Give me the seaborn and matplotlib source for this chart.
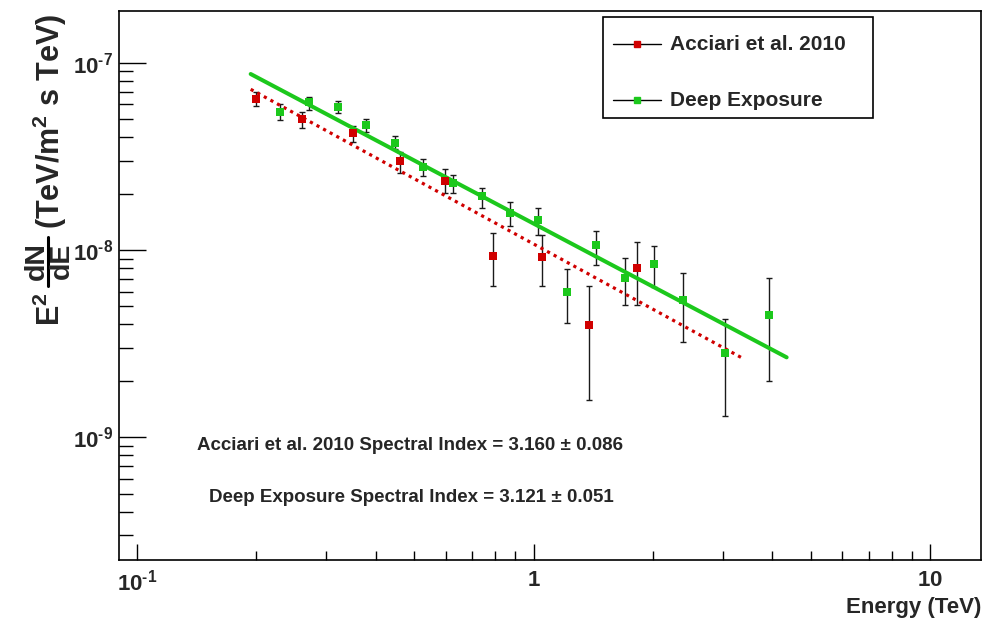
import matplotlib
matplotlib.use("Agg")
import matplotlib.pyplot as plt
import numpy as np
import seaborn as sns
from matplotlib.ticker import LogLocator, NullFormatter
from matplotlib.lines import Line2D
from matplotlib.patches import Rectangle

# ---------------- data ----------------
acc_E = [0.199, 0.260, 0.351, 0.460, 0.599, 0.788, 1.049, 1.379, 1.821]
acc_F = [6.40e-8, 4.99e-8, 4.20e-8, 2.99e-8, 2.34e-8, 9.29e-9, 9.14e-9, 3.99e-9, 8.01e-9]
acc_Fhi = [6.95e-8, 5.43e-8, 4.61e-8, 3.35e-8, 2.70e-8, 1.23e-8, 1.20e-8, 6.42e-9, 1.107e-8]
acc_Flo = [5.89e-8, 4.50e-8, 3.79e-8, 2.57e-8, 2.01e-8, 6.42e-9, 6.42e-9, 1.58e-9, 5.07e-9]

deep_E = [0.229, 0.271, 0.321, 0.379, 0.447, 0.527, 0.625, 0.742, 0.872, 1.027,
          1.215, 1.436, 1.699, 2.011, 2.375, 3.035, 3.926]
deep_F = [5.47e-8, 6.15e-8, 5.80e-8, 4.65e-8, 3.71e-8, 2.76e-8, 2.27e-8, 1.93e-8, 1.58e-8, 1.45e-8,
          5.94e-9, 1.06e-8, 7.11e-9, 8.39e-9, 5.39e-9, 2.81e-9, 4.50e-9]
deep_Fhi = [6.00e-8, 6.59e-8, 6.22e-8, 4.99e-8, 4.05e-8, 3.06e-8, 2.51e-8, 2.15e-8, 1.80e-8, 1.67e-8,
            7.89e-9, 1.27e-8, 9.10e-9, 1.054e-8, 7.51e-9, 4.28e-9, 7.11e-9]
deep_Flo = [4.93e-8, 5.59e-8, 5.37e-8, 4.28e-8, 3.45e-8, 2.49e-8, 2.01e-8, 1.67e-8, 1.34e-8, 1.20e-8,
            4.06e-9, 8.32e-9, 5.07e-9, 6.32e-9, 3.24e-9, 1.30e-9, 2.00e-9]

# power-law fit lines (end points)
acc_fit_E = [0.1935, 3.364]
acc_fit_F = [7.21e-8, 2.64e-9]
deep_fit_E = [0.1935, 4.343]
deep_fit_F = [8.70e-8, 2.67e-9]

series_names = ["Acciari et al. 2010", "Deep Exposure"]
index_text = ["Acciari et al. 2010 Spectral Index = 3.160 \u00b1 0.086",
              "Deep Exposure Spectral Index = 3.121 \u00b1 0.051"]

x_ticks = [0.1, 1, 10]
x_ticklabels = [r"$\mathbf{10^{\text{-}1}}$", r"$\mathbf{1}$", r"$\mathbf{10}$"]
y_ticks = [1e-9, 1e-8, 1e-7]
y_ticklabels = [r"$\mathbf{10^{\text{-}9}}$", r"$\mathbf{10^{\text{-}8}}$", r"$\mathbf{10^{\text{-}7}}$"]

RED = "#d00000"
GREEN = "#1cc81c"

# ---------------- style ----------------
sns.set_style("white")
plt.rcParams["font.family"] = ["Liberation Sans", "DejaVu Sans"]
plt.rcParams["font.weight"] = "bold"
plt.rcParams["mathtext.fontset"] = "custom"
plt.rcParams["mathtext.rm"] = "Liberation Sans:bold"
plt.rcParams["mathtext.bf"] = "Liberation Sans:bold"
plt.rcParams["mathtext.it"] = "Liberation Sans:bold"
plt.rcParams["mathtext.sf"] = "Liberation Sans:bold"

W, H = 985.0, 631.0
fig = plt.figure(figsize=(9.85, 6.31), dpi=100)
ax = fig.add_axes([119 / W, 1 - 560 / H, (981 - 119) / W, (560 - 11) / H])
ax.set_xscale("log")
ax.set_yscale("log")

# error bars
for E, F, lo, hi in [(acc_E, acc_F, acc_Flo, acc_Fhi), (deep_E, deep_F, deep_Flo, deep_Fhi)]:
    E = np.array(E); F = np.array(F)
    yerr = [F - np.array(lo), np.array(hi) - F]
    ax.errorbar(E, F, yerr=yerr, fmt="none", ecolor="#1a1a1a", elinewidth=1.0,
                capsize=2.3, capthick=1.0, zorder=2)

# fit lines
sns.lineplot(x=deep_fit_E, y=deep_fit_F, ax=ax, color=GREEN, lw=2.9, zorder=3)
sns.lineplot(x=acc_fit_E, y=acc_fit_F, ax=ax, color=RED, lw=2.3,
             linestyle=(0, (1.0, 1.35)), zorder=3)

# markers
sns.scatterplot(x=acc_E, y=acc_F, ax=ax, marker="s", s=28, color=RED,
                edgecolor=RED, linewidth=0, zorder=4)
sns.scatterplot(x=deep_E, y=deep_F, ax=ax, marker="s", s=28, color=GREEN,
                edgecolor=GREEN, linewidth=0, zorder=4)

ax.set_xlim(0.0901, 13.42)
ax.set_ylim(2.21e-10, 1.888e-7)

ax.set_xticks(x_ticks)
ax.set_xticklabels(x_ticklabels)
ax.set_yticks(y_ticks)
ax.set_yticklabels(y_ticklabels)
ax.xaxis.set_minor_locator(LogLocator(base=10, subs=np.arange(2, 10)))
ax.yaxis.set_minor_locator(LogLocator(base=10, subs=np.arange(2, 10)))
ax.xaxis.set_minor_formatter(NullFormatter())
ax.yaxis.set_minor_formatter(NullFormatter())

ax.tick_params(axis="both", which="both", direction="in", color="black",
               bottom=True, left=True, top=False, right=False)
ax.tick_params(axis="y", which="major", length=19.5, width=1.0, labelsize=16, pad=4)
ax.tick_params(axis="y", which="minor", length=10, width=1.0)
ax.tick_params(axis="x", which="major", length=11.5, width=1.0, labelsize=16, pad=7)
ax.tick_params(axis="x", which="minor", length=6.5, width=1.0)
for s in ax.spines.values():
    s.set_color("black")
    s.set_linewidth(1.2)
ax.grid(False)
ax.set_xlabel("")
ax.set_ylabel("")

# x axis title
fig.text(981 / W, 1 - 607 / H, "Energy (TeV)", ha="right", va="center",
         fontsize=16, fontweight="bold")

# y axis title, assembled ROOT-style: E^2 dN/dE (TeV/m^2 s TeV)
ybase = 60  # pixel x of the text baseline
fig.text(ybase / W, 1 - 326 / H, r"$\mathbf{E}^{\mathbf{2}}$", rotation=90,
         rotation_mode="anchor", ha="left", va="baseline", fontsize=22)
fig.text(44 / W, 1 - 261 / H, "dN", rotation=90, rotation_mode="anchor",
         ha="center", va="baseline", fontsize=20.5, fontweight="bold")
fig.text(68.5 / W, 1 - 261 / H, "dE", rotation=90, rotation_mode="anchor",
         ha="center", va="baseline", fontsize=20.5, fontweight="bold")
fig.add_artist(Line2D([47.5 / W, 47.5 / W], [1 - 237 / H, 1 - 286 / H],
                      transform=fig.transFigure, color="black", lw=2.2))
fig.text(ybase / W, 1 - 229 / H, r"(TeV/m$^{\mathbf{2}}$ s TeV)", rotation=90,
         rotation_mode="anchor", ha="left", va="baseline", fontsize=22,
         fontweight="bold")

# spectral index annotations
fig.text(410 / W, 1 - 445 / H, index_text[0], ha="center", va="center",
         fontsize=13.5, fontweight="bold")
fig.text(411 / W, 1 - 497 / H, index_text[1], ha="center", va="center",
         fontsize=13.5, fontweight="bold")

# legend box (drawn manually, ROOT-style)
fig.add_artist(Rectangle((603 / W, 1 - 118 / H), (873 - 603) / W, (118 - 17) / H,
                         transform=fig.transFigure, facecolor="white",
                         edgecolor="black", lw=1.2, zorder=10))
for yrow, col, name in [(44, RED, series_names[0]), (100, GREEN, series_names[1])]:
    fig.add_artist(Line2D([613 / W, 661 / W], [1 - yrow / H, 1 - yrow / H],
                          transform=fig.transFigure, color="black", lw=1.0, zorder=11))
    fig.add_artist(Line2D([637 / W], [1 - yrow / H], transform=fig.transFigure,
                          marker="s", markersize=4.8, color=col, mec=col, lw=0, zorder=12))
    fig.text(670 / W, 1 - yrow / H, name, ha="left", va="center", fontsize=15,
             fontweight="bold", zorder=12)

fig.savefig("out.png", dpi=100)
